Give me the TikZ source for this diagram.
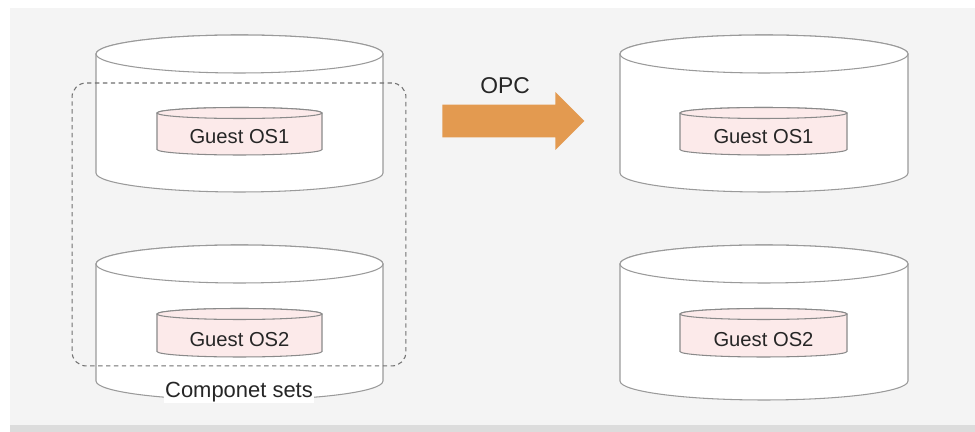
\documentclass[tikz,border=0pt]{standalone}
\usepackage{fontspec}
\setmainfont{Liberation Sans}
\usetikzlibrary{shapes.arrows,positioning}
\definecolor{panel}{HTML}{F4F4F4}
\definecolor{shadow}{HTML}{DCDCDC}
\definecolor{diskline}{HTML}{9A9A9A}
\definecolor{guestline}{HTML}{8A8A8A}
\definecolor{guestpink}{HTML}{FCEAEA}
\definecolor{copyorange}{HTML}{E39A50}
\definecolor{dashgray}{HTML}{707070}
\tikzset{
  pics/drum/.style n args={3}{code={
    \path[pic actions] (-#1,0) -- (-#1,-#3) arc[start angle=180, end angle=360, x radius=#1, y radius=#2]
      -- (#1,0) arc[start angle=0, end angle=180, x radius=#1, y radius=#2] -- cycle;
    \path[pic actions] (0,0) ellipse[x radius=#1, y radius=#2];
  }},
  volume/.style={draw=diskline, fill=white, line width=0.6pt},
  guestvol/.style={draw=guestline, fill=guestpink, line width=0.6pt},
  guesttext/.style={font=\fontsize{11.5}{13}\selectfont, text=black!85, inner sep=1pt},
  copyarrow/.style={single arrow, fill=copyorange, draw=none, minimum height=2.84cm, inner xsep=0pt, inner ysep=0.32cm, single arrow head extend=0.25cm, single arrow tip angle=90},
  setbox/.style={draw=dashgray, dash pattern=on 2.5pt off 2pt, line width=0.6pt, rounded corners=8pt, minimum width=6.68cm, minimum height=5.66cm},
  caption/.style={font=\fontsize{12.5}{14}\selectfont, text=black!85}
}
\begin{document}
\begin{tikzpicture}[x=0.02cm, y=0.02cm]
\useasboundingbox (0,0) rectangle (975,432);
% background panel
\fill[white] (0,0) rectangle (975,432);
\fill[shadow] (10,0) rectangle (975,8);
\fill[panel] (10,7) rectangle (975,424);
% source volumes
\pic[volume] (src1) at (239.5,378) {drum={143.5}{19}{119}};
\pic[volume] (src2) at (239.5,168) {drum={143.5}{19}{117}};
\pic[guestvol] (srcg1) at (239.5,319) {drum={82.5}{5.5}{36.5}};
\pic[guestvol] (srcg2) at (239.5,118) {drum={82.5}{5.5}{37.5}};
\node[guesttext] (srcos1) at (239.5,295.5) {Guest OS1};
\node[guesttext] (srcos2) at (239.5,92.5) {Guest OS2};
% copy destination
\pic[volume] (dst1) at (764,378) {drum={144}{19}{119}};
\pic[volume] (dst2) at (764,168) {drum={144}{19}{117}};
\pic[guestvol] (dstg1) at (763.5,319) {drum={83.5}{5.5}{36.5}};
\pic[guestvol] (dstg2) at (763.5,118) {drum={83.5}{5.5}{37.5}};
\node[guesttext] (dstos1) at (763.5,295.5) {Guest OS1};
\node[guesttext] (dstos2) at (763.5,92.5) {Guest OS2};
% component set
\node[setbox] (compset) at (239,207.5) {};
\node[caption, fill=white, inner sep=0.5pt] (setlabel) at (239,40) {Componet sets};
% OPC arrow
\node[copyarrow, anchor=west] (opc) at (442,311) {};
\node[font=\fontsize{13}{15}\selectfont, text=black!85] (opclabel) at (505,346) {OPC};
\end{tikzpicture}
\end{document}
